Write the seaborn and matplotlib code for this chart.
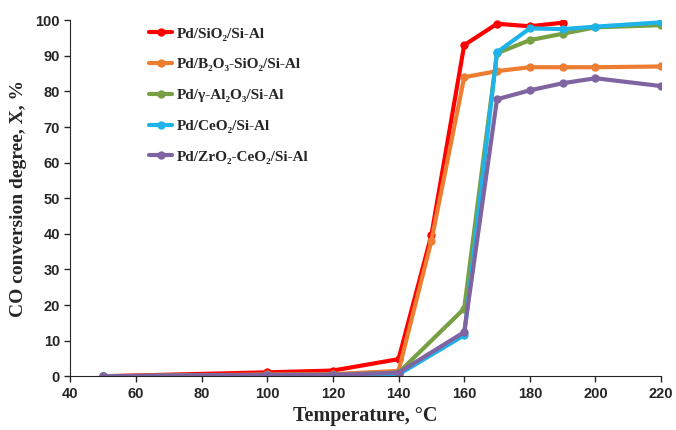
import pandas as pd
import matplotlib
matplotlib.use('Agg')
import matplotlib.pyplot as plt
import seaborn as sns

# data
temps_red = [50, 100, 120, 140, 150, 160, 170, 180, 190]
red = [0, 1.1, 1.6, 4.8, 39.6, 93, 99, 98.3, 99.3]

temps_orange = [50, 100, 120, 140, 150, 160, 170, 180, 190, 200, 220]
orange = [0, 0.5, 0.6, 1.5, 38, 84, 85.7, 86.8, 86.8, 86.8, 87]

temps_rest = [50, 100, 120, 140, 160, 170, 180, 190, 200, 220]
green = [0, 0.4, 0.4, 1, 19, 90.7, 94.4, 96.2, 98, 98.6]
cyan = [0, 0.3, 0.3, 0.5, 11.5, 91, 97.7, 97.5, 98.2, 99.4]
purple = [0, 0.4, 0.4, 1, 12.4, 77.8, 80.3, 82.3, 83.7, 81.5]

labels = ['Pd/SiO₂/Si-Al', 'Pd/B₂O₃-SiO₂/Si-Al', 'Pd/γ-Al₂O₃/Si-Al',
          'Pd/CeO₂/Si-Al', 'Pd/ZrO₂-CeO₂/Si-Al']
colors = ['#FF0000', '#ED7D31', '#77A043', '#1EB4EA', '#8064A2']

frames = []
for lab, t, v in zip(labels,
                     [temps_red, temps_orange, temps_rest, temps_rest, temps_rest],
                     [red, orange, green, cyan, purple]):
    frames.append(pd.DataFrame({'T': t, 'X': v, 'sample': lab}))
df = pd.concat(frames, ignore_index=True)

sns.set_style('ticks')
fig, ax = plt.subplots(figsize=(6.76, 4.30), dpi=100)
fig.subplots_adjust(left=0.104, right=0.978, top=0.953, bottom=0.125)

sns.lineplot(data=df, x='T', y='X', hue='sample', hue_order=labels,
             palette=colors, marker='o', markersize=6, markeredgewidth=0,
             linewidth=3, sort=False, ax=ax)

ax.set_xlim(40, 220)
ax.set_ylim(0, 100)
ax.set_xticks(range(40, 221, 20))
ax.set_yticks(range(0, 101, 10))
sns.despine(ax=ax)
ax.tick_params(axis='both', direction='out', length=4, width=1, labelsize=10.5)
for t in ax.get_xticklabels() + ax.get_yticklabels():
    t.set_family(['Liberation Sans', 'DejaVu Sans'])
    t.set_fontweight('bold')

serif = ['Liberation Serif', 'DejaVu Serif']
ax.set_xlabel('Temperature, °C', fontsize=14.5, fontweight='bold', family=serif)
ax.set_ylabel('CO conversion degree, X, %', fontsize=14, fontweight='bold',
              family=serif, labelpad=6)

ax.legend(loc='upper left', bbox_to_anchor=(0.11, 1.02), frameon=False,
          labelspacing=1.12, handlelength=1.5, handletextpad=0.3,
          prop={'family': serif, 'weight': 'bold', 'size': 11})

plt.savefig('out.png', dpi=100)
